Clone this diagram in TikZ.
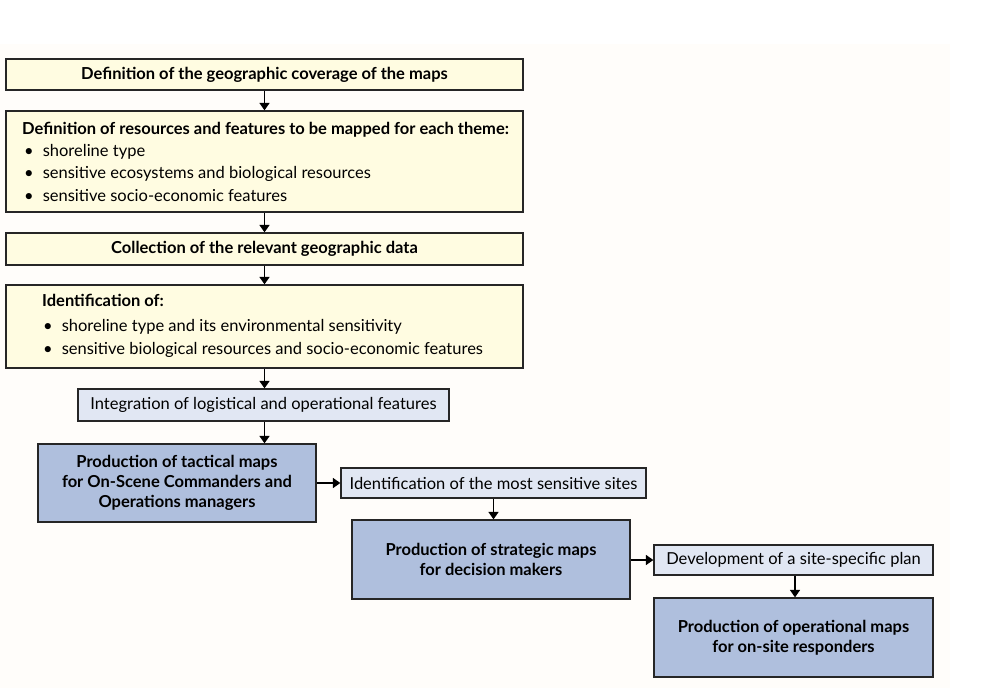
\documentclass[tikz,border=0pt]{standalone}
\usepackage{fontspec}
\setmainfont{Lato}
\usetikzlibrary{arrows.meta,positioning}
\definecolor{ylw}{HTML}{FFFCE1}
\definecolor{lblue}{HTML}{E1E7F3}
\definecolor{dblue}{HTML}{AFBFDD}
\definecolor{bg}{HTML}{FFFDFA}
\tikzset{
  box/.style={draw=black!85, line width=1.3pt, inner sep=0pt},
  ybox/.style={box, fill=ylw},
  lbox/.style={box, fill=lblue},
  dbox/.style={box, fill=dblue},
  shadowed/.style={preaction={fill=black!60, transform canvas={shift={(1.3pt,-1.3pt)}}}},
  arr/.style={line width=1.7pt, -{Triangle[length=7.5pt,width=10pt]}},
  hd/.style={font=\bfseries\fontsize{16.5}{19.8}\selectfont, inner sep=0pt},
  bd/.style={font=\fontsize{16.5}{19}\selectfont, inner sep=0pt, anchor=west},
  lt/.style={font=\fontsize{16.5}{19}\selectfont},
}
\begin{document}
\begin{tikzpicture}[x=1pt,y=-1pt]
\useasboundingbox (0,0) rectangle (995,688);
\fill[white] (0,0) rectangle (995,688);
\fill[bg] (0,44) rectangle (950,688);

\node[ybox,shadowed, minimum width=517pt, minimum height=31pt] (b1) at (264.5,74.5) {};
\node[hd] (t1) at (b1.center) {Definition of the geographic coverage of the maps};

\node[ybox,shadowed, minimum width=517pt, minimum height=101pt] (b2) at (264.5,161.5) {};
\node[hd, anchor=west] (t2) at (22,130) {Definition of resources and features to be mapped for each theme:};
\node[bd] (t2a) at (24,152) {\textbullet\hspace{9pt}shoreline type};
\node[bd] (t2b) at (24,174) {\textbullet\hspace{9pt}sensitive ecosystems and biological resources};
\node[bd] (t2c) at (24,196) {\textbullet\hspace{9pt}sensitive socio-economic features};

\node[ybox,shadowed, minimum width=517pt, minimum height=32pt] (b3) at (264.5,249) {};
\node[hd] (t3) at (b3.center) {Collection of the relevant geographic data};

\node[ybox,shadowed, minimum width=517pt, minimum height=83pt] (b4) at (264.5,326.5) {};
\node[hd, anchor=west] (t4) at (42,300) {Identification of:};
\node[bd] (t4a) at (43,327) {\textbullet\hspace{9pt}shoreline type and its environmental sensitivity};
\node[bd] (t4b) at (43,350) {\textbullet\hspace{9pt}sensitive biological resources and socio-economic features};

\node[lbox,shadowed, minimum width=371pt, minimum height=32pt, lt] (b5) at (263.5,405) {Integration of logistical and operational features};

\node[dbox,shadowed, minimum width=278pt, minimum height=78pt, hd, align=center] (b6) at (177,483) {Production of tactical maps\\for On-Scene Commanders and\\Operations managers};

\node[lbox,shadowed, minimum width=305pt, minimum height=30pt, lt] (b7) at (493.5,483) {Identification of the most sensitive sites};

\node[dbox,shadowed, minimum width=278pt, minimum height=79pt, hd, align=center] (b8) at (491,559.5) {Production of strategic maps\\for decision makers};

\node[lbox,shadowed, minimum width=279pt, minimum height=30pt, lt] (b9) at (793.5,560) {Development of a site-specific plan};

\node[dbox,shadowed, minimum width=279pt, minimum height=79pt, hd, align=center] (b10) at (793.5,637.5) {Production of operational maps\\for on-site responders};

\draw[arr] (b1.south) -- (b2.north);
\draw[arr] (b2.south) -- (b3.north);
\draw[arr] (b3.south) -- (b4.north);
\draw[arr] (b4.south) -- (b4.south |- b5.north);
\draw[arr] (b5.south -| b4.south) -- (b4.south |- b6.north);
\draw[arr] (b6.east |- b7.west) -- (b7.west);
\draw[arr] (b7.south) -- (b7.south |- b8.north);
\draw[arr] (b8.east |- b9.west) -- (b9.west);
\draw[arr] (b9.south -| 795,0) -- (795,0 |- b10.north);
\end{tikzpicture}
\end{document}
